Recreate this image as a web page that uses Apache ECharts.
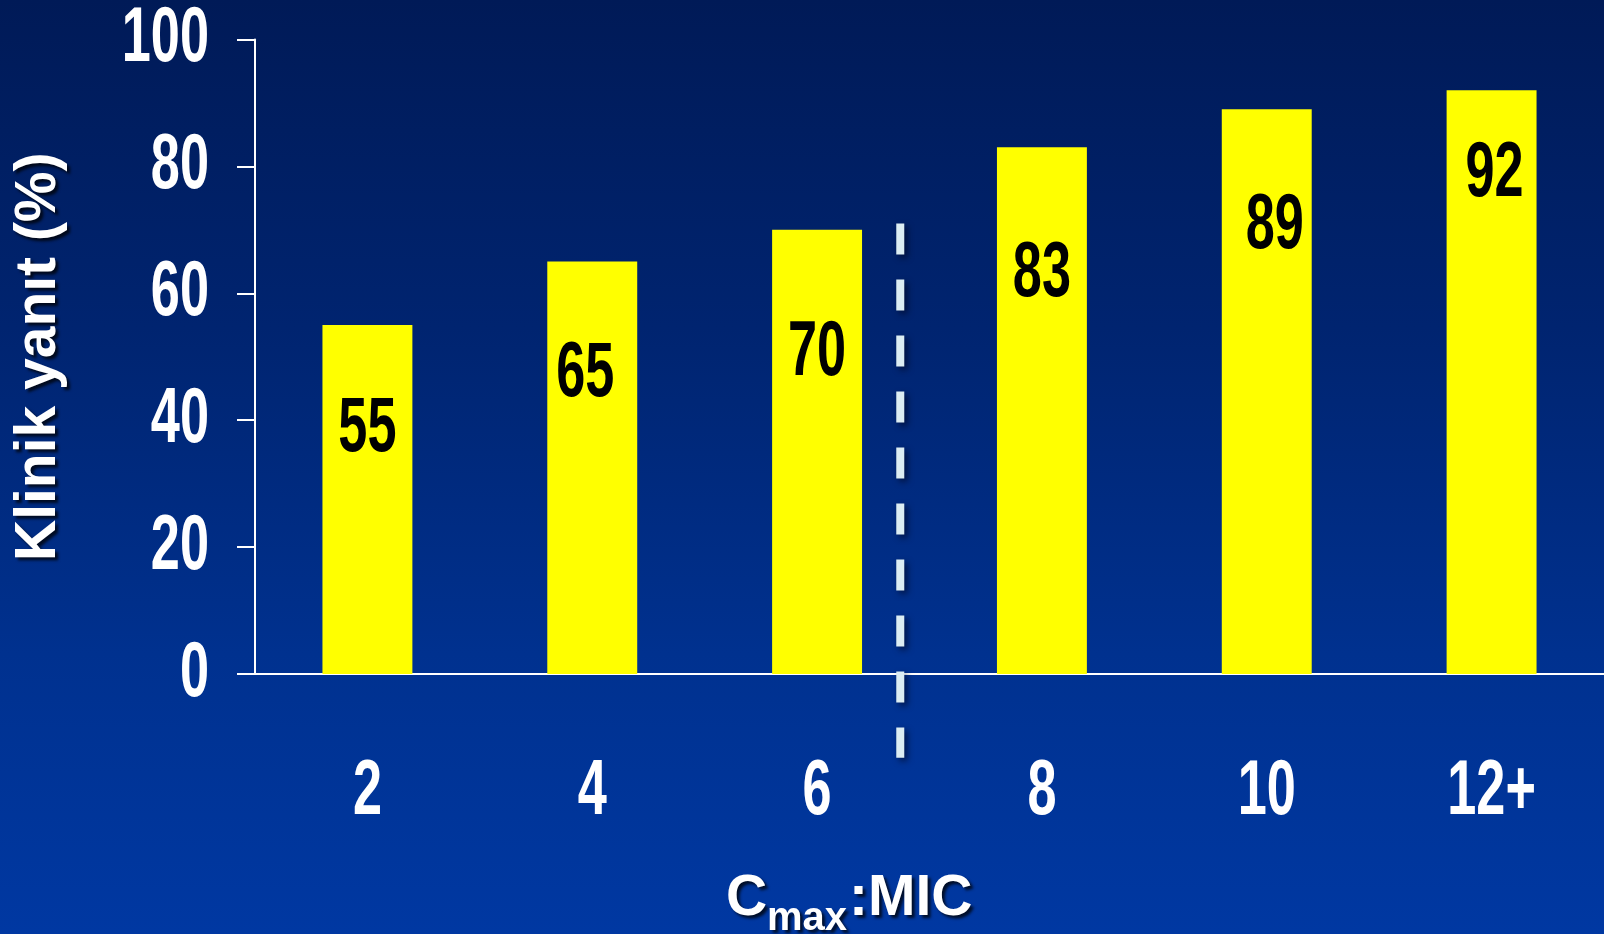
<!DOCTYPE html>
<html>
<head>
<meta charset="utf-8">
<script src="https://cdn.jsdelivr.net/npm/echarts@6/dist/echarts.min.js"></script>
<style>
html, body { margin: 0; padding: 0; width: 1604px; height: 934px; overflow: hidden;
  background: linear-gradient(to bottom, #001a57 0%, #002470 35%, #00318f 70%, #0038a2 100%); }
#chart { width: 1604px; height: 934px; }
</style>
</head>
<body>
<div id="chart"></div>
<script>
// ---- data ----
const categories = ['2', '4', '6', '8', '10', '12+'];
const responseValues = [55, 65, 70, 83, 89, 92];
const yAxisTitle = 'Klinik yanıt (%)';
const xAxisTitleParts = ['C', 'max', ':MIC'];
const cutoffPosition = 2.87;          // on a continuous 0..6 scale across the categories
const cutoffValues = [71, -13.2];     // extent of the dashed cut-off line (y-axis units)

// ---- presentation (not data) ----
const labelDrop = [104, 113, 124, 127, 117, 84];  // px from bar top to label centre
const labelNudge = [0, -7, 0, 0, 8, 3];           // px horizontal nudge of labels
const TXT_FONT = '"Liberation Sans", Arial, sans-serif';
const NUM_SIZE = 78;       // numbers: tall, condensed bold
const NUM_SCALE = 0.67;    // horizontal condensation of numbers

const chart = echarts.init(document.getElementById('chart'), null, { renderer: 'canvas' });

const barData = responseValues.map((v, i) => ({
  value: v,
  label: { offset: [labelNudge[i], labelDrop[i] - NUM_SIZE / 2] }
}));

const shadow = { textShadowColor: 'rgba(0,0,0,0.75)', textShadowBlur: 3, textShadowOffsetX: 3, textShadowOffsetY: 3 };
const titleStyle = (size) => Object.assign({ fontFamily: TXT_FONT, fontWeight: 'bold', fontSize: size, color: '#fff' }, shadow);

chart.setOption({
  animation: false,
  backgroundColor: 'transparent',
  title: [
    { text: xAxisTitleParts[0], left: 726, top: 871, padding: 0, textStyle: titleStyle(57) },
    { text: xAxisTitleParts[1], left: 767, top: 899, padding: 0, textStyle: titleStyle(40) },
    { text: xAxisTitleParts[2], left: 849, top: 871, padding: 0, textStyle: titleStyle(57) }
  ],
  grid: { left: 255, top: 39.5, width: 1354, height: 634.5, containLabel: false },
  xAxis: [{
    type: 'category',
    data: categories,
    axisLine: { lineStyle: { color: '#ffffff', width: 2 } },
    axisTick: { show: false },
    axisLabel: { color: '#fff', fontFamily: TXT_FONT, fontWeight: 'bold', fontSize: NUM_SIZE, margin: 79 }
  }, {
    type: 'value', min: 0, max: 6, show: false
  }],
  yAxis: {
    type: 'value', min: 0, max: 100, interval: 20,
    name: yAxisTitle,
    nameLocation: 'middle',
    nameRotate: 90,
    nameGap: 186,
    nameTextStyle: Object.assign({ color: '#fff', fontFamily: TXT_FONT, fontWeight: 'bold', fontSize: 57 }, shadow),
    splitLine: { show: false },
    axisLine: { show: true, lineStyle: { color: '#ffffff', width: 2 } },
    axisTick: { show: true, length: 18, lineStyle: { color: '#ffffff', width: 2 } },
    axisLabel: { color: '#fff', fontFamily: TXT_FONT, fontWeight: 'bold', fontSize: NUM_SIZE, margin: 46 }
  },
  series: [{
    type: 'bar',
    data: barData,
    barWidth: '40%',
    itemStyle: { color: '#ffff00' },
    label: {
      show: true,
      position: 'insideTop',
      distance: 0,
      color: '#000',
      fontFamily: TXT_FONT,
      fontWeight: 'bold',
      fontSize: NUM_SIZE
    }
  }, {
    type: 'line',
    xAxisIndex: 1,
    clip: false,
    symbol: 'none',
    data: cutoffValues.map(v => [cutoffPosition, v]),
    lineStyle: {
      color: '#dcedf3', width: 8, type: [31, 25], cap: 'butt',
      shadowColor: 'rgba(0,0,20,0.6)', shadowBlur: 6, shadowOffsetX: 3, shadowOffsetY: 3
    },
    z: 5
  }]
});

// Condense the numeric labels horizontally (the original uses a condensed bold face).
function condenseNumbers() {
  const zr = chart.getZr();
  const list = zr.storage.getDisplayList(true, true);
  list.forEach(el => {
    const st = el.style;
    if (st && typeof st.text === 'string' && /^[0-9]+\+?$/.test(st.text)) {
      el.scaleX = NUM_SCALE;
      el.dirty ? el.dirty() : el.markRedraw();
      if (el.__hostTarget) el.__hostTarget.markRedraw();
    }
  });
  zr.refreshImmediately();
}
condenseNumbers();
</script>
</body>
</html>
